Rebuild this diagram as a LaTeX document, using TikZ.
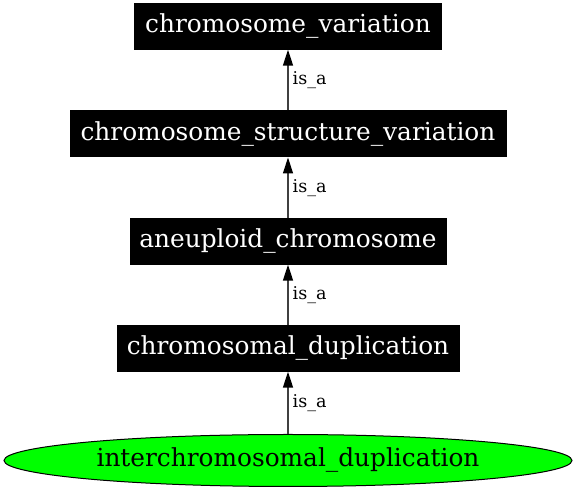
\documentclass[tikz,border=0pt]{standalone}
\usepackage{fontspec}
\setmainfont{DejaVu Serif}
\usetikzlibrary{shapes.geometric,arrows.meta}

\tikzset{every picture/.style={line width=0.75pt}}
\tikzset{
  termbox/.style={draw=black, fill=black, text=white, inner sep=0pt, font=\fontsize{18.6}{20}\selectfont},
  leafterm/.style={ellipse, draw=black, fill={rgb,255:red,0;green,255;blue,0}, inner sep=0pt, font=\fontsize{18.6}{20}\selectfont},
  isa/.style={draw=black!75, line width=1pt, -{Triangle[length=12pt,width=7.5pt,color=black]}},
  isalabel/.style={right, inner sep=3pt, text=black, font=\fontsize{13.2}{15}\selectfont}
}

\begin{document}
\begin{tikzpicture}[x=0.75pt,y=0.75pt,yscale=-1,xscale=1]
\useasboundingbox (0,0) rectangle (576,491);

%Shape: Rectangle [id:chromosome_variation]
\node [termbox, minimum width=230pt, minimum height=34pt] (cv) at (288,26.5) {chromosome\_variation};
%Shape: Rectangle [id:chromosome_structure_variation]
\node [termbox, minimum width=327pt, minimum height=34.5pt] (csv) at (288,134) {chromosome\_structure\_variation};
%Shape: Rectangle [id:aneuploid_chromosome]
\node [termbox, minimum width=237pt, minimum height=34pt] (ac) at (288,241.5) {aneuploid\_chromosome};
%Shape: Rectangle [id:chromosomal_duplication]
\node [termbox, minimum width=256.5pt, minimum height=34pt] (cd) at (288,348.5) {chromosomal\_duplication};
%Shape: Ellipse [id:interchromosomal_duplication]
\node [leafterm, minimum width=426pt, minimum height=39pt] (icd) at (288,460.5) {interchromosomal\_duplication};

%Straight Lines [id:is_a]
\draw [isa] (csv) -- (cv) node [midway, isalabel] {is\_a};
%Straight Lines [id:is_a]
\draw [isa] (ac) -- (csv) node [midway, isalabel] {is\_a};
%Straight Lines [id:is_a]
\draw [isa] (cd) -- (ac) node [midway, isalabel] {is\_a};
%Straight Lines [id:is_a]
\draw [isa] (icd) -- (cd) node [midway, isalabel] {is\_a};

\end{tikzpicture}
\end{document}
